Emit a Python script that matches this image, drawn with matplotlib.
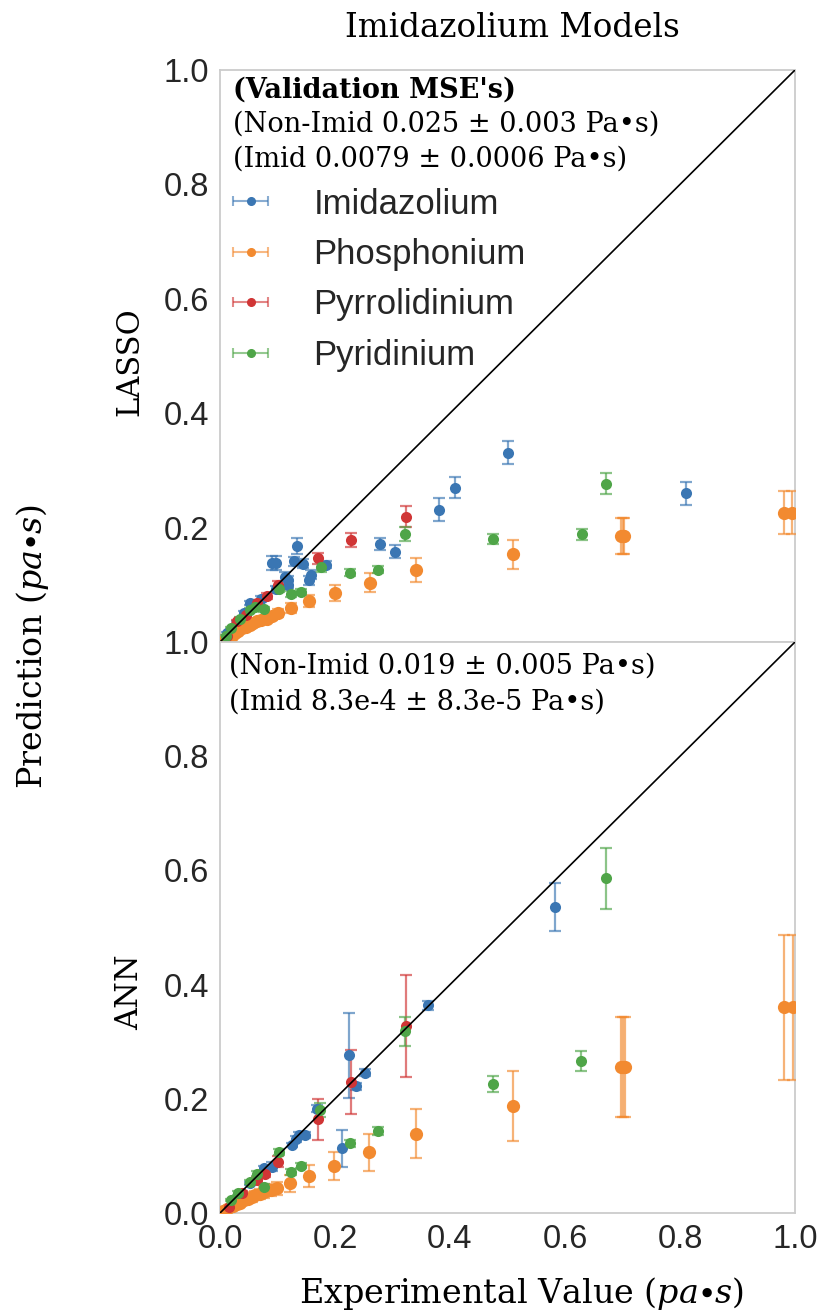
import matplotlib
matplotlib.use("Agg")
import matplotlib.pyplot as plt
import numpy as np

plt.rcParams['mathtext.fontset'] = 'dejavuserif'

# === Dati: LASSO (pannello superiore) ===
lasso_imid_x = [0.500, 0.408, 0.381, 0.810, 0.278, 0.305, 0.134, 0.090, 0.097, 0.128, 0.145,
                0.184, 0.113, 0.119, 0.155, 0.158, 0.119, 0.097, 0.071, 0.052, 0.042, 0.029, 0.013]
lasso_imid_y = [0.331, 0.270, 0.231, 0.260, 0.171, 0.158, 0.168, 0.138, 0.138, 0.141, 0.137,
                0.135, 0.114, 0.108, 0.108, 0.118, 0.100, 0.092, 0.075, 0.068, 0.050, 0.034, 0.015]
lasso_imid_e = [0.020, 0.018, 0.020, 0.020, 0.010, 0.012, 0.014, 0.013, 0.013, 0.008, 0.008,
                0.006, 0.008, 0.008, 0.008, 0.008, 0.006, 0.006, 0.005, 0.004, 0.004, 0.003, 0.002]

lasso_phos_x = [0.981, 0.994, 0.697, 0.700, 0.703, 0.509, 0.341, 0.260, 0.200, 0.155, 0.123,
                0.100, 0.081, 0.065, 0.052, 0.039, 0.026, 0.013, 0.090, 0.072, 0.058, 0.045, 0.032, 0.020, 0.008]
lasso_phos_y = [0.226, 0.226, 0.185, 0.185, 0.185, 0.153, 0.126, 0.104, 0.086, 0.072, 0.059,
                0.050, 0.041, 0.036, 0.030, 0.024, 0.015, 0.006, 0.045, 0.038, 0.033, 0.027, 0.020, 0.011, 0.004]
lasso_phos_e = [0.038, 0.038, 0.031, 0.031, 0.031, 0.026, 0.021, 0.017, 0.014, 0.011, 0.009,
                0.007, 0.006, 0.005, 0.004, 0.004, 0.003, 0.002, 0.006, 0.005, 0.004, 0.004, 0.003, 0.002, 0.001]

lasso_pyrr_x = [0.323, 0.228, 0.170, 0.100, 0.081, 0.065, 0.045, 0.029, 0.013]
lasso_pyrr_y = [0.219, 0.178, 0.146, 0.100, 0.080, 0.069, 0.047, 0.036, 0.010]
lasso_pyrr_e = [0.018, 0.0125, 0.010, 0.006, 0.005, 0.004, 0.003, 0.003, 0.002]

lasso_pyrid_x = [0.672, 0.321, 0.474, 0.629, 0.275, 0.226, 0.176, 0.141, 0.124, 0.103, 0.077,
                 0.061, 0.052, 0.035, 0.019, 0.010]
lasso_pyrid_y = [0.277, 0.189, 0.180, 0.188, 0.126, 0.121, 0.131, 0.087, 0.084, 0.092, 0.057,
                 0.062, 0.056, 0.040, 0.024, 0.010]
lasso_pyrid_e = [0.019, 0.012, 0.0095, 0.009, 0.006, 0.006, 0.008, 0.005, 0.005, 0.005, 0.004,
                 0.004, 0.003, 0.003, 0.002, 0.002]

# === Dati: ANN (pannello inferiore) ===
ann_imid_x = [0.583, 0.361, 0.225, 0.213, 0.252, 0.236, 0.169, 0.147, 0.137, 0.132, 0.126,
              0.090, 0.077, 0.052, 0.026]
ann_imid_y = [0.536, 0.364, 0.276, 0.113, 0.246, 0.222, 0.183, 0.137, 0.137, 0.130, 0.119,
              0.081, 0.078, 0.052, 0.023]
ann_imid_e = [0.042, 0.008, 0.075, 0.032, 0.006, 0.006, 0.006, 0.005, 0.005, 0.005, 0.004,
              0.008, 0.004, 0.003, 0.002]

ann_phos_x = [0.981, 0.996, 0.697, 0.700, 0.704, 0.509, 0.340, 0.259, 0.199, 0.154, 0.121,
              0.099, 0.077, 0.061, 0.048, 0.035, 0.023, 0.013, 0.088, 0.070, 0.055, 0.042, 0.029, 0.006]
ann_phos_y = [0.360, 0.360, 0.256, 0.256, 0.256, 0.187, 0.139, 0.106, 0.082, 0.065, 0.052,
              0.043, 0.036, 0.031, 0.025, 0.018, 0.013, 0.007, 0.040, 0.033, 0.028, 0.022, 0.015, 0.003]
ann_phos_e = [0.127, 0.127, 0.0875, 0.0875, 0.0875, 0.061, 0.043, 0.032, 0.025, 0.019, 0.015,
              0.012, 0.010, 0.008, 0.007, 0.005, 0.004, 0.002, 0.011, 0.009, 0.008, 0.006, 0.004, 0.001]

ann_pyrr_x = [0.323, 0.228, 0.170, 0.101, 0.079, 0.065, 0.039, 0.016]
ann_pyrr_y = [0.328, 0.230, 0.164, 0.090, 0.069, 0.058, 0.035, 0.011]
ann_pyrr_e = [0.089, 0.056, 0.036, 0.010, 0.006, 0.005, 0.003, 0.002]

ann_pyrid_x = [0.672, 0.628, 0.474, 0.321, 0.275, 0.226, 0.174, 0.141, 0.123, 0.103, 0.077,
               0.065, 0.052, 0.032, 0.019]
ann_pyrid_y = [0.586, 0.266, 0.226, 0.318, 0.144, 0.122, 0.180, 0.083, 0.072, 0.107, 0.046,
               0.069, 0.054, 0.035, 0.023]
ann_pyrid_e = [0.053, 0.018, 0.014, 0.026, 0.007, 0.006, 0.012, 0.005, 0.005, 0.005, 0.004,
               0.004, 0.003, 0.003, 0.002]

nomi = ["Imidazolium", "Phosphonium", "Pyrrolidinium", "Pyridinium"]
colori = ['#3a76b3', '#f28a30', '#d03535', '#4fa548']
msize = [8, 9.5, 8, 8]

lasso = [(lasso_imid_x, lasso_imid_y, lasso_imid_e),
         (lasso_phos_x, lasso_phos_y, lasso_phos_e),
         (lasso_pyrr_x, lasso_pyrr_y, lasso_pyrr_e),
         (lasso_pyrid_x, lasso_pyrid_y, lasso_pyrid_e)]
ann = [(ann_imid_x, ann_imid_y, ann_imid_e),
       (ann_phos_x, ann_phos_y, ann_phos_e),
       (ann_pyrr_x, ann_pyrr_y, ann_pyrr_e),
       (ann_pyrid_x, ann_pyrid_y, ann_pyrid_e)]

testi_lasso = ["(Non-Imid 0.025 \u00b1 0.003 Pa\u2022s)",
               "(Imid 0.0079 \u00b1 0.0006 Pa\u2022s)"]
testi_ann = ["(Non-Imid 0.019 \u00b1 0.005 Pa\u2022s)",
             "(Imid 8.3e-4 \u00b1 8.3e-5 Pa\u2022s)"]

# === Figura ===
W, H = 817, 1312
fig = plt.figure(figsize=(W / 100, H / 100), dpi=100)
x0, x1 = 220 / W, 795 / W
ax_top = fig.add_axes([x0, 1 - 642 / H, x1 - x0, (642 - 70) / H])
ax_bot = fig.add_axes([x0, 1 - 1213 / H, x1 - x0, (1213 - 642) / H])


def disegna(ax, serie):
    for (xs, ys, es), c, ms in zip(serie, colori, msize):
        line, caps, bars = ax.errorbar(xs, ys, yerr=es, fmt='o', color=c, ms=ms,
                                       mec=c, elinewidth=1.6, capsize=4, capthick=1.6,
                                       zorder=3)
        line.set_markeredgewidth(0)
        for cl in caps:
            cl.set_alpha(0.65)
        for b in bars:
            b.set_alpha(0.65)
    ax.plot([0, 1], [0, 1], color='black', lw=1.2, zorder=4)
    ax.set_xlim(0, 1)
    ax.set_ylim(0, 1)
    for s in ax.spines.values():
        s.set_color('#cccccc')
        s.set_linewidth(1.3)
    ax.tick_params(length=0, pad=8, labelsize=23.5, colors='#262626')


disegna(ax_top, lasso)
disegna(ax_bot, ann)

ax_top.set_xticks([])
ax_top.set_yticks([0.2, 0.4, 0.6, 0.8, 1.0])
ax_top.set_yticklabels(["0.2", "0.4", "0.6", "0.8", "1.0"], family='Liberation Sans')
ax_bot.set_xticks([0, 0.2, 0.4, 0.6, 0.8, 1.0])
ax_bot.set_xticklabels(["0.0", "0.2", "0.4", "0.6", "0.8", "1.0"], family='Liberation Sans')
ax_bot.set_yticks([0, 0.2, 0.4, 0.6, 0.8, 1.0])
ax_bot.set_yticklabels(["0.0", "0.2", "0.4", "0.6", "0.8", "1.0"], family='Liberation Sans')

# === Testi MSE ===
ax_top.text(0.022, 0.965, "(Validation MSE's)", transform=ax_top.transAxes,
            family='DejaVu Serif', fontsize=19.5, fontweight='bold', va='center')
for i, t in enumerate(testi_lasso):
    ax_top.text(0.022, 0.905 - i * 0.06, t, transform=ax_top.transAxes,
                family='DejaVu Serif', fontsize=19.5, va='center')
for i, t in enumerate(testi_ann):
    ax_bot.text(0.016, 0.958 - i * 0.063, t, transform=ax_bot.transAxes,
                family='DejaVu Serif', fontsize=19.5, va='center')

# === Legenda ===
handles = []
for n, c in zip(nomi, colori):
    h = ax_top.errorbar([np.nan], [np.nan], xerr=[1], fmt='o', color=c, ms=5.5,
                        elinewidth=1.5, capsize=3.5, capthick=1.5, label=n)
    for art in list(h[1]) + list(h[2]):
        art.set_alpha(0.6)
    handles.append(h)
leg = ax_top.legend(handles=handles, loc='upper left', bbox_to_anchor=(-0.031, 0.849),
                    frameon=False, prop={'family': 'Liberation Sans', 'size': 25},
                    handlelength=1.0, handletextpad=1.3, labelspacing=0.5)
for t in leg.get_texts():
    t.set_color('#262626')

# === Etichette ===
fig.text(512 / W, 1 - 28 / H, "Imidazolium Models", family='DejaVu Serif',
         fontsize=23.5, ha='center', va='center')
fig.text(130 / W, 1 - 362 / H, "LASSO", family='DejaVu Serif', fontsize=22,
         rotation=90, ha='center', va='center')
fig.text(130 / W, 1 - 992 / H, "ANN", family='DejaVu Serif', fontsize=22,
         rotation=90, ha='center', va='center')
fig.text(33 / W, 1 - 646 / H, r"Prediction $(pa{\bullet}s)$", family='DejaVu Serif',
         fontsize=24, rotation=90, ha='center', va='center')
fig.text(521 / W, 1 - 1294 / H, r"Experimental Value $(pa{\bullet}s)$",
         family='DejaVu Serif', fontsize=24, ha='center', va='center')

fig.savefig("out.png", dpi=100)
